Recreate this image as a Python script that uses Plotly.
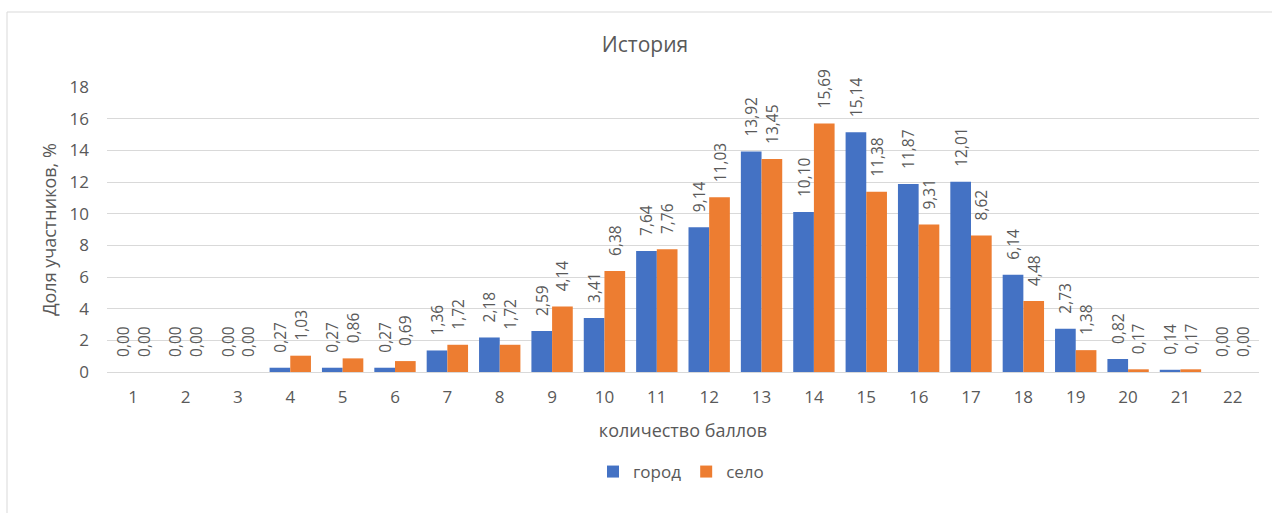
import plotly.graph_objects as go

categories = [str(i) for i in range(1, 23)]
gorod = [0.00, 0.00, 0.00, 0.27, 0.27, 0.27, 1.36, 2.18, 2.59, 3.41, 7.64, 9.14,
         13.92, 10.10, 15.14, 11.87, 12.01, 6.14, 2.73, 0.82, 0.14, 0.00]
selo = [0.00, 0.00, 0.00, 1.03, 0.86, 0.69, 1.72, 1.72, 4.14, 6.38, 7.76, 11.03,
        13.45, 15.69, 11.38, 9.31, 8.62, 4.48, 1.38, 0.17, 0.17, 0.00]
y_ticks = [0, 2, 4, 6, 8, 10, 12, 14, 16, 18]

FONT = "Open Sans"
TXT = "#595959"
PAD = "\u00a0\u00a0\u00a0"

fig = go.Figure()
for name, vals, color in [("город", gorod, "#4472C4"), ("село", selo, "#ED7D31")]:
    fig.add_trace(go.Bar(
        x=categories, y=vals, name=name,
        marker=dict(color=color, line=dict(width=0)),
        texttemplate=PAD + "%{y:.2f}", textposition="outside", textangle=-90,
        constraintext="none", cliponaxis=False,
        textfont=dict(family=FONT, size=15.5, color=TXT),
    ))

W, H = 1272, 513
L, R, T, B = 107, 13, 87, 141
pw, ph = W - L - R, H - T - B

fig.update_layout(
    width=W, height=H,
    margin=dict(l=L, r=R, t=T, b=B, autoexpand=False),
    paper_bgcolor="white", plot_bgcolor="white",
    separators=", ",
    barmode="group", bargap=0.21, bargroupgap=0,
    font=dict(family=FONT, color=TXT),
    title=dict(text="История", font=dict(family=FONT, size=21, color=TXT),
               x=645 / W, xanchor="center", xref="container",
               y=1 - 45 / H, yanchor="middle", yref="container"),
    legend=dict(orientation="h", x=(681 - L) / pw, xanchor="center",
                y=(H - B - 472) / ph, yanchor="middle",
                font=dict(family=FONT, size=17, color=TXT),
                itemwidth=30, traceorder="normal"),
    xaxis=dict(type="category", showgrid=False, showline=False, ticks="",
               tickfont=dict(family=FONT, size=17, color=TXT),
               ticklabelstandoff=13,
               title=dict(text="количество баллов", standoff=17,
                          font=dict(family=FONT, size=18, color=TXT))),
    yaxis=dict(range=[0, 18], tickvals=y_ticks, showgrid=True,
               gridcolor="#D9D9D9", gridwidth=1, zeroline=True,
               zerolinecolor="#D9D9D9", zerolinewidth=1, showline=False, ticks="",
               tickfont=dict(family=FONT, size=17, color=TXT),
               ticklabelstandoff=17,
               title=dict(text="Доля участников, %", standoff=8,
                          font=dict(family=FONT, size=18, color=TXT))),
)

fig.add_shape(type="rect", xref="paper", yref="paper",
              x0=(7 - L) / pw, x1=1.3, y0=-0.6, y1=(H - B - 12) / ph,
              line=dict(color="#D9D9D9", width=1), fillcolor="rgba(0,0,0,0)",
              layer="below")

fig.write_html("out.html", config={"displayModeBar": False},
               post_script="document.body.style.margin='0';")
